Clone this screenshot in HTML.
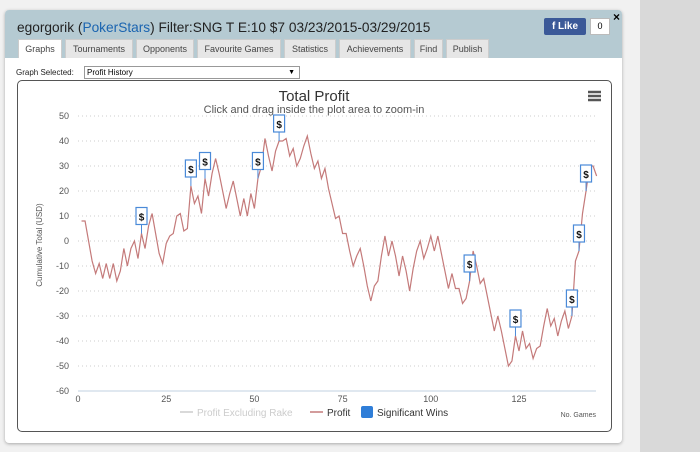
<!DOCTYPE html>
<html><head><meta charset="utf-8">
<style>
body{margin:0;width:700px;height:452px;background:#f1f1f1;font-family:"Liberation Sans",sans-serif;overflow:hidden;position:relative}
.strip{position:absolute;left:640px;top:0;width:60px;height:452px;background:#d9d9d9}
.panel{position:absolute;left:5px;top:10px;width:617px;height:433px;background:#fff;border-radius:4px;box-shadow:0 1px 3px rgba(0,0,0,.3)}
.head{position:absolute;left:0;top:0;width:617px;height:48px;background:#b5cad2;border-radius:4px 4px 0 0}
.title{position:absolute;left:12px;top:10px;font-size:13.7px;color:#222}
.title span{color:#1a64b0}
.tab{position:absolute;top:29px;height:19px;background:#e6e6e6;border:1px solid #ccc;border-bottom:none;font-size:9px;color:#444;text-align:center;line-height:19px;box-sizing:border-box}
.tab.act{background:#fff}
.like{position:absolute;left:539px;top:8px;width:42px;height:17px;background:#3b5998;color:#fff;font-size:10px;font-weight:bold;line-height:17px;text-align:center;border-radius:2px}
.cnt{position:absolute;left:585px;top:8px;width:18px;height:15px;background:#fff;border:1px solid #bbb;font-size:9px;text-align:center;line-height:15px}
.close{position:absolute;left:608px;top:0;font-size:12px;font-weight:bold}
.lab{position:absolute;left:11px;top:58px;font-size:8px;color:#222}
.sel{position:absolute;left:79px;top:56px;width:212px;height:11px;border:1px solid #999;font-size:8px;line-height:11px;padding-left:2px;box-sizing:content-box}
.chart{position:absolute;left:12px;top:70px;width:593px;height:350px;border:1px solid #555;border-radius:5px}
</style></head><body>
<div class="strip"></div>
<div class="panel">
 <div class="head">
  <div class="title">egorgorik (<span>PokerStars</span>) Filter:SNG T E:10 $7 03/23/2015-03/29/2015</div>
  <div class="like">f Like</div>
  <div class="cnt">0</div>
  <div class="close">×</div>
  <div class="tab act" style="left:13px;width:44px">Graphs</div>
  <div class="tab" style="left:60px;width:68px">Tournaments</div>
  <div class="tab" style="left:131px;width:58px">Opponents</div>
  <div class="tab" style="left:192px;width:84px">Favourite Games</div>
  <div class="tab" style="left:279px;width:52px">Statistics</div>
  <div class="tab" style="left:334px;width:72px">Achievements</div>
  <div class="tab" style="left:409px;width:29px">Find</div>
  <div class="tab" style="left:441px;width:43px">Publish</div>
 </div>
 <div class="lab">Graph Selected:</div>
 <div class="sel">Profit History<span style="position:absolute;right:4px;font-size:7px">▼</span></div>
 <div class="chart"></div>
</div>
<svg id="svg" width="700" height="452" style="position:absolute;left:0;top:0"></svg>
<script>
const profit=[8,8,0,-8,-13,-9,-15,-9,-15,-9,-16,-12,-3,-10,-3,0,-7,3,-3,6,11,3,-5,-9,-1,2,3,10,11,4,5,22,15,18,11,25,18,27,33,27,20,13,19,24,17,10,17,10,19,13,25,30,41,34,28,36,40,40,41,34,37,30,33,38,42,35,29,32,25,29,21,15,9,10,3,3,-4,-10,-6,-3,-10,-18,-24,-18,-16,-6,2,-6,0,-6,-14,-6,-12,-20,-11,-4,0,-7,-3,2,-4,2,-5,-12,-19,-13,-19,-19,-25,-23,-16,-4,-10,-17,-15,-22,-29,-36,-30,-36,-43,-50,-48,-38,-44,-36,-43,-41,-47,-43,-42,-34,-27,-34,-31,-38,-32,-28,-35,-30,-8,-4,11,20,30,30,26];
const winGames=[18,32,36,51,57,111,124,140,142,144];
const yTicks=[50,40,30,20,10,0,-10,-20,-30,-40,-50,-60];
const xTicks=[0,25,50,75,100,125];
const NS="http://www.w3.org/2000/svg",svg=document.getElementById('svg');
const X=g=>78+g*3.528, Y=v=>241-v*2.5;
function el(t,a,txt){const e=document.createElementNS(NS,t);for(const k in a)e.setAttribute(k,a[k]);if(txt!==undefined)e.textContent=txt;svg.appendChild(e);return e;}
let e;
e=el('text',{x:314,y:101,'text-anchor':'middle','font-size':15,fill:'#333'},'Total Profit');


e=el('text',{x:314,y:113,'text-anchor':'middle','font-size':11,fill:'#555'},'Click and drag inside the plot area to zoom-in');


e=el('path',{d:'M588 92h13M588 96h13M588 100h13',stroke:'#555','stroke-width':2.5});


yTicks.forEach(v=>{
 e=el('line',{x1:78,x2:596,y1:Y(v),y2:Y(v),stroke:v===-60?'#c0d0e0':'#ccc','stroke-dasharray':v===-60?'':'1,3'});
 
 
 e=el('text',{x:69,y:Y(v)+3,'text-anchor':'end','font-size':9,fill:'#555'},v);
 
 
});
xTicks.forEach(g=>{
 e=el('text',{x:X(g),y:402,'text-anchor':'middle','font-size':9,fill:'#555'},g);
 
 
});
e=el('text',{x:42,y:245,'text-anchor':'middle','font-size':8,fill:'#555',transform:'rotate(-90 42 245)'},'Cumulative Total (USD)');


e=el('text',{x:596,y:417,'text-anchor':'end','font-size':7,fill:'#555'},'No. Games');


e=el('polyline',{points:profit.map((v,i)=>X(i+1)+','+Y(v)).join(' '),fill:'none',stroke:'#c47a7a','stroke-width':1.2});


winGames.forEach(g=>{
 const x=X(g),y=Y(profit[g-1]);
 e=el('line',{x1:x,x2:x,y1:y,y2:y-9,stroke:'#4a8ad8'});
 
 
 e=el('rect',{x:x-5.5,y:y-26,width:11,height:17,fill:'#fff',stroke:'#4a8ad8','stroke-width':1.2});
 
 
 e=el('text',{x:x,y:y-13,'text-anchor':'middle','font-size':10,'font-weight':'bold',fill:'#111'},'$');
 
 
});
e=el('line',{x1:180,x2:193,y1:412,y2:412,stroke:'#ccc','stroke-width':1.5});


e=el('text',{x:197,y:416,'font-size':10,fill:'#ccc'},'Profit Excluding Rake');


e=el('line',{x1:310,x2:323,y1:412,y2:412,stroke:'#c47a7a','stroke-width':1.5});


e=el('text',{x:327,y:416,'font-size':10,fill:'#333'},'Profit');


e=el('rect',{x:361,y:406,width:12,height:12,rx:2,fill:'#2f7ed8'});


e=el('text',{x:377,y:416,'font-size':10,fill:'#333'},'Significant Wins');


</script>
</body></html>
